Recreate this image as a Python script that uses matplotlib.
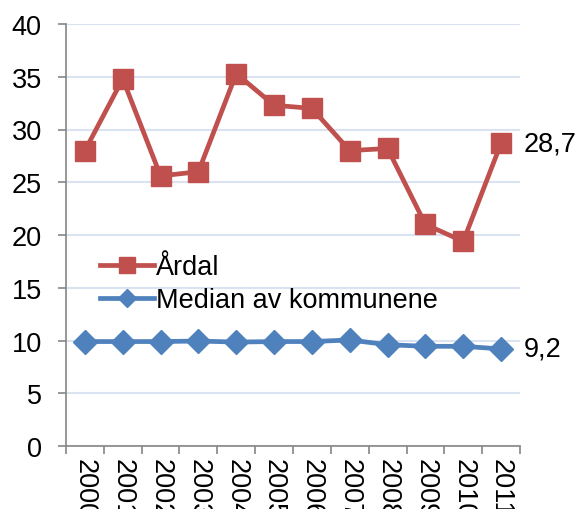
import matplotlib
matplotlib.use("Agg")
import matplotlib.pyplot as plt
import numpy as np

years = ["2000", "2001", "2002", "2003", "2004", "2005", "2006", "2007", "2008", "2009", "2010", "2011"]
ardal = [28.0, 34.8, 25.6, 26.0, 35.3, 32.3, 32.0, 28.0, 28.2, 21.0, 19.4, 28.7]
median = [9.9, 9.9, 9.9, 9.95, 9.85, 9.9, 9.9, 10.05, 9.6, 9.45, 9.45, 9.2]
series_names = ["Årdal", "Median av kommunene"]
end_labels = ["28,7", "9,2"]
yticks = [0, 5, 10, 15, 20, 25, 30, 35, 40]

plt.rcParams['font.family'] = ['Liberation Sans', 'DejaVu Sans']
FS = 19.5

fig = plt.figure(figsize=(5.79, 5.10), dpi=100)
ax = fig.add_axes([66/579, 1-447/510, 454/579, 422/510])

x = np.arange(len(years))
red = "#C0504D"
blue = "#4F81BD"
ax.plot(x, ardal, color=red, lw=3.4, marker="s", markersize=14, label=series_names[0], zorder=3)
ax.plot(x, median, color=blue, lw=3.4, marker="D", markersize=12, label=series_names[1], zorder=3)

ax.set_xlim(-0.5, len(years) - 0.5)
ax.set_ylim(0, 40)
ax.set_yticks(yticks)
ax.set_yticklabels([str(v) for v in yticks], fontsize=FS)
ax.set_xticks(x)
ax.set_xticklabels(years, rotation=-90, fontsize=FS, va="top")
ax.set_xticks(np.arange(-0.5, len(years)), minor=True)
ax.tick_params(axis="x", which="major", length=0, pad=9)
ax.tick_params(axis="x", which="minor", length=6, color="#868686", width=1.2)
ax.tick_params(axis="y", length=6, color="#868686", width=1.2, pad=11.5)

ax.grid(axis="y", color="#D9E3F1", lw=1.5, zorder=0)
ax.set_axisbelow(True)
for s in ["top", "right"]:
    ax.spines[s].set_visible(False)
for s in ["left", "bottom"]:
    ax.spines[s].set_color("#868686")
    ax.spines[s].set_linewidth(1.2)

ax.annotate(end_labels[0], (x[-1], ardal[-1]), xytext=(16, 0), textcoords="offset points",
            va="center", ha="left", fontsize=FS, annotation_clip=False)
ax.annotate(end_labels[1], (x[-1], median[-1]), xytext=(16, 0), textcoords="offset points",
            va="center", ha="left", fontsize=FS, annotation_clip=False)

ax.legend(loc="upper left", bbox_to_anchor=(0.05, 0.48), frameon=False, fontsize=FS,
          handlelength=2.0, handletextpad=0.1, labelspacing=0.25, borderaxespad=0,
          markerscale=0.8)

fig.savefig("out.png", dpi=100)
